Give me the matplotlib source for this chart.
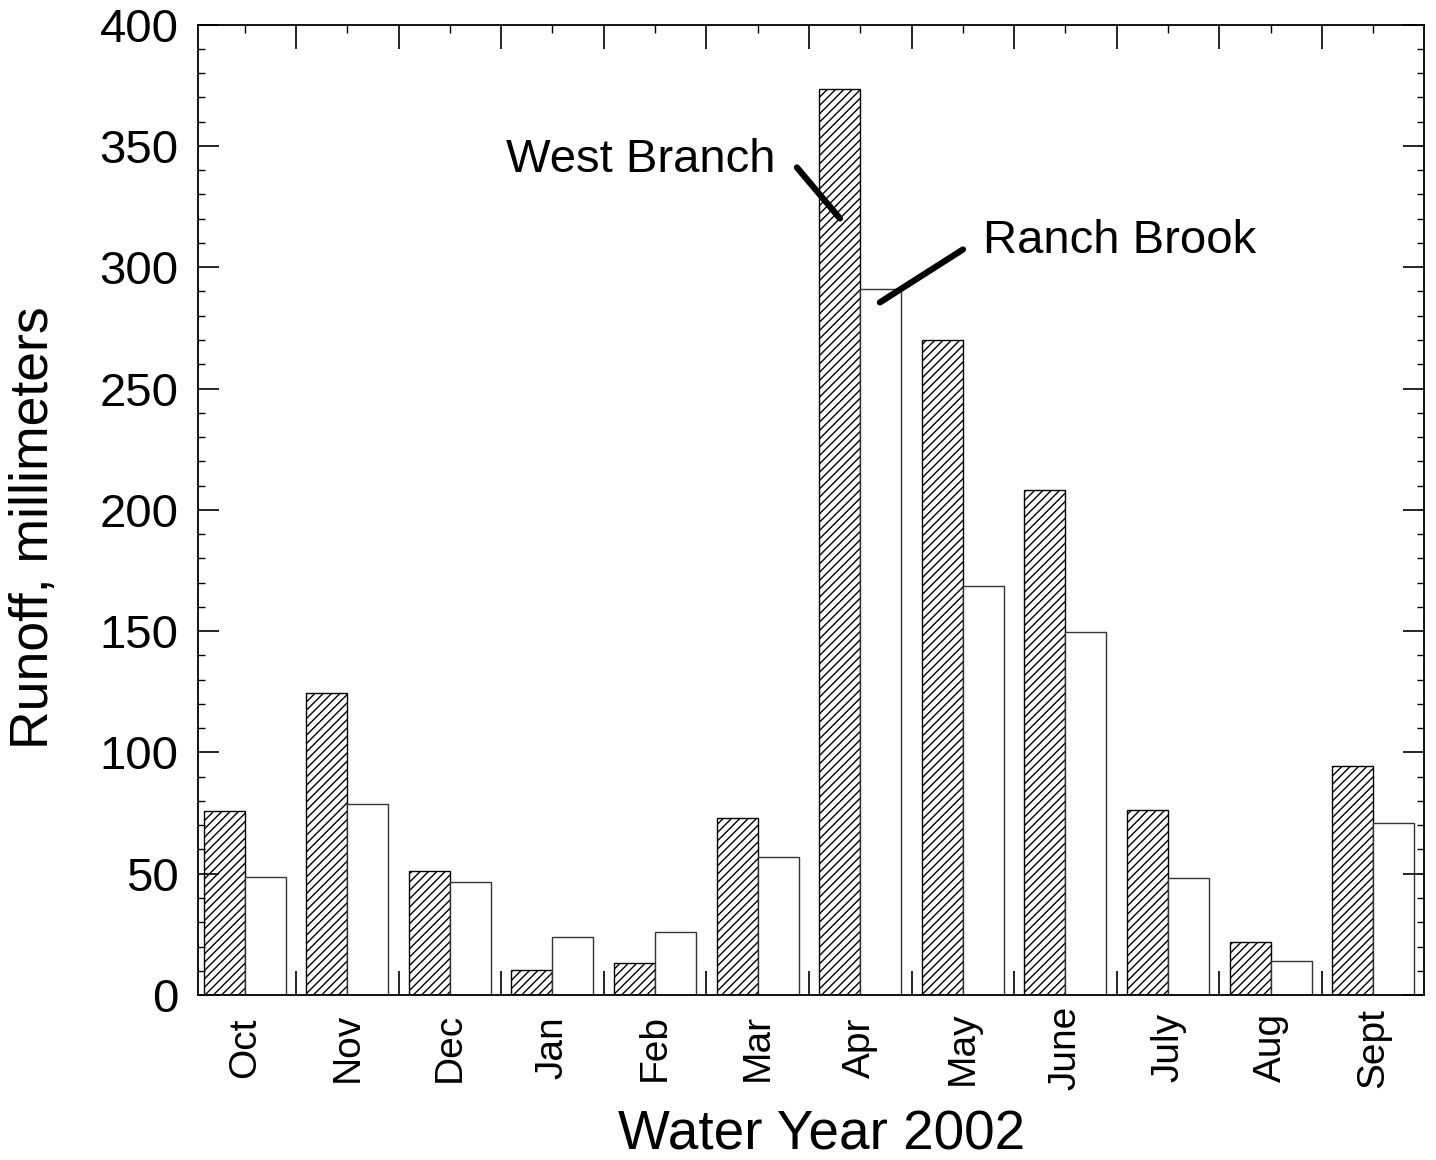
"""Monthly runoff, West Branch vs Ranch Brook, water year 2002."""

import matplotlib

matplotlib.use("Agg")

import matplotlib.pyplot as plt
import numpy as np

MONTHS = ["Oct", "Nov", "Dec", "Jan", "Feb", "Mar",
          "Apr", "May", "June", "July", "Aug", "Sept"]
WEST_BRANCH = [76, 124.5, 51.3, 10.3, 13.2, 73, 373.3, 270, 208, 76.2, 22, 94.3]
RANCH_BROOK = [48.5, 78.8, 46.8, 23.8, 26, 57, 291, 168.7, 149.8, 48.1, 14.1, 71]

plt.rcParams["font.family"] = ["Liberation Sans", "DejaVu Sans"]
plt.rcParams["hatch.linewidth"] = 1.0

fig = plt.figure(figsize=(14.36, 11.6), dpi=100)
ax = fig.add_axes([0.1379, 0.1422, 0.8537, 0.8366])

x = np.arange(len(MONTHS))
ax.bar(x + 0.1, WEST_BRANCH, width=0.4, align="edge", facecolor="white",
       edgecolor="black", hatch="////", linewidth=1.0)
ax.bar(x + 0.5, RANCH_BROOK, width=0.4, align="edge", facecolor="white",
       edgecolor="#333333", linewidth=1.0)

ax.set_xlim(0.045, 11.995)
ax.set_ylim(0, 400)

# group boundaries as major ticks, month names on minor ticks at group centres
ax.set_xticks(np.arange(1, len(MONTHS)))
ax.set_xticks(x + 0.5, MONTHS, minor=True)
ax.tick_params(axis="x", which="major", direction="in", length=17, width=1.2,
               bottom=True, top=True, labelbottom=False)
ax.tick_params(axis="x", which="minor", direction="in", length=6, width=1.0,
               bottom=False, top=True, labelbottom=True, labelsize=28,
               labelrotation=90, pad=38)
for lbl in ax.get_xticklabels(minor=True):
    lbl.set_verticalalignment("center")

ax.set_yticks(np.arange(0, 401, 50))
ax.set_yticks(np.arange(0, 401, 10), minor=True)
ax.tick_params(axis="y", which="major", direction="in", length=15, width=1.2,
               left=True, right=True, labelsize=34, pad=14)
ax.tick_params(axis="y", which="minor", direction="in", length=5, width=1.0,
               left=True, right=True)

for spine in ax.spines.values():
    spine.set_linewidth(1.3)

ax.set_xlabel("Water Year 2002", fontsize=39.5)
ax.xaxis.set_label_coords(0.509, -0.118)
ax.set_ylabel("Runoff, millimeters", fontsize=38.5)
ax.yaxis.set_label_coords(-0.113, 0.482)

# callouts
ax.plot([5.883, 6.302], [341.1, 320.1], color="black", linewidth=4.5,
        solid_capstyle="round")
ax.text(5.678, 344, "West Branch", fontsize=34, ha="right", va="center")
ax.plot([6.692, 7.501], [285.5, 307.3], color="black", linewidth=4.5,
        solid_capstyle="round")
ax.text(7.696, 310.6, "Ranch Brook", fontsize=34, ha="left", va="center")

fig.savefig("out.png", dpi=100)
plt.close(fig)
